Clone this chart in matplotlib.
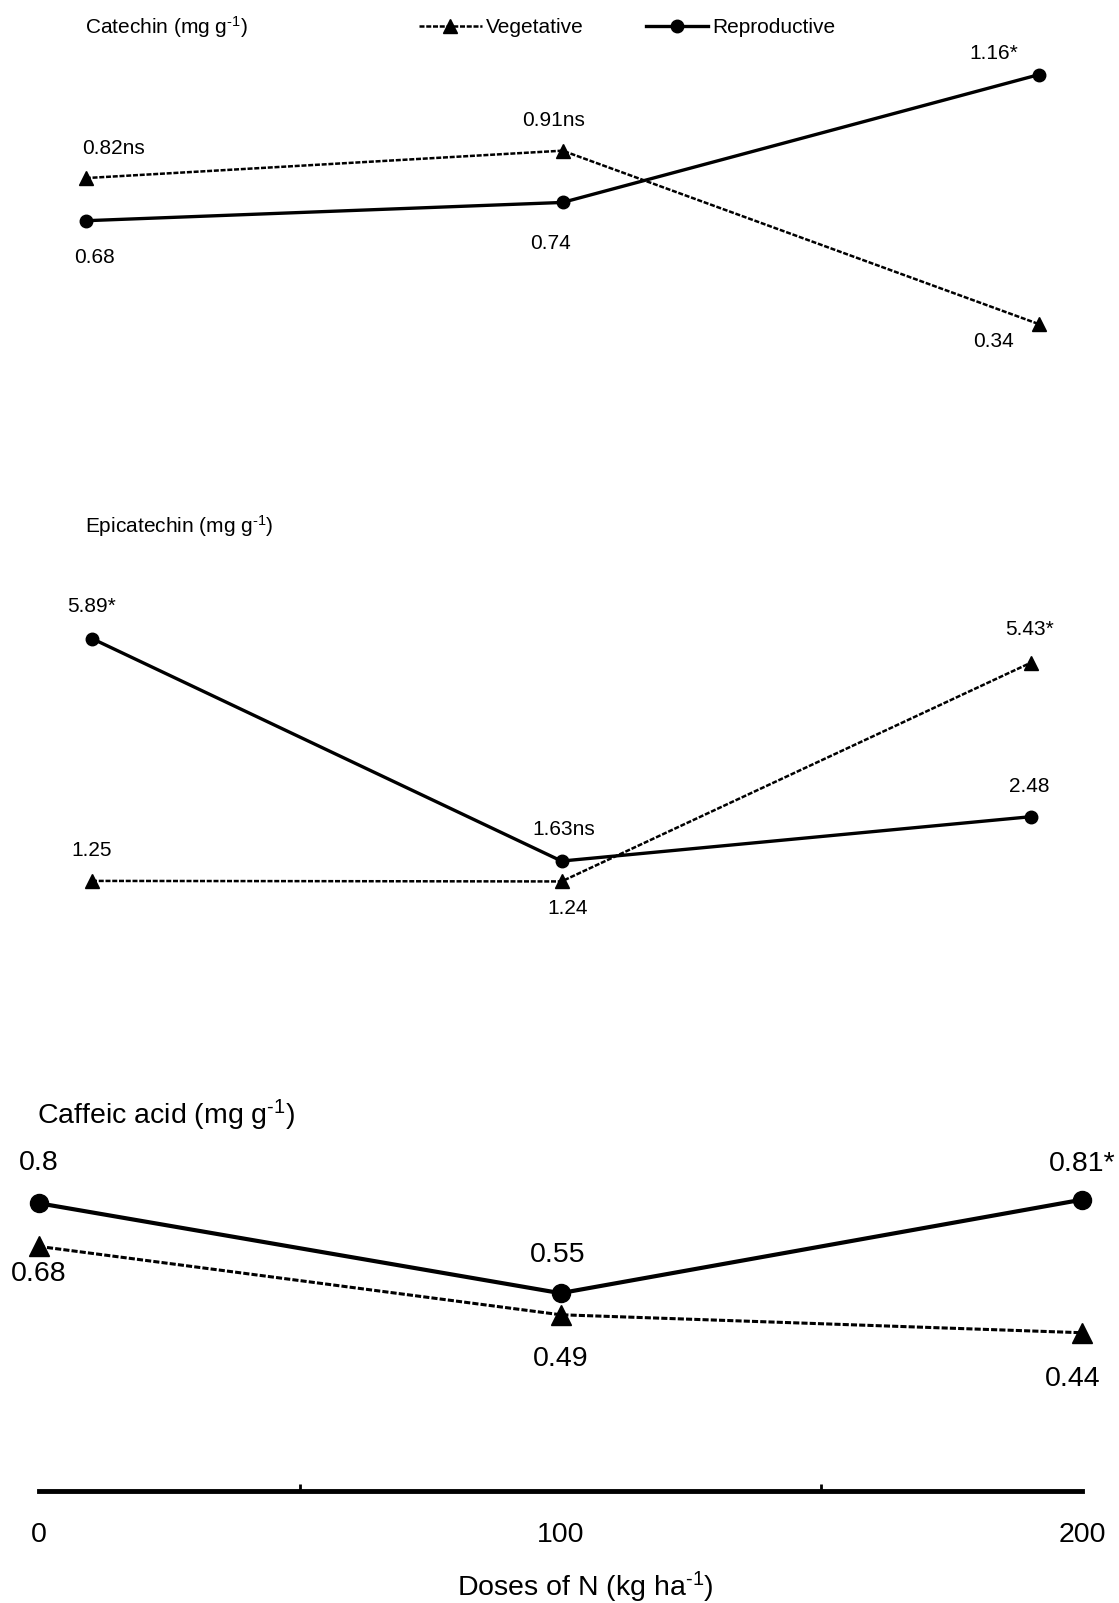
import matplotlib
matplotlib.use("Agg")
import matplotlib.pyplot as plt
from matplotlib import font_manager as fm
from matplotlib.lines import Line2D

names = {f.name for f in fm.fontManager.ttflist}
NARROW = "Liberation Sans Narrow" if "Liberation Sans Narrow" in names else "Liberation Sans"
plt.rcParams['font.family'] = ['Liberation Sans', 'DejaVu Sans']
plt.rcParams['mathtext.fontset'] = 'custom'
plt.rcParams['mathtext.rm'] = 'Liberation Sans'
plt.rcParams['mathtext.it'] = 'Liberation Sans'

doses = [0, 100, 200]
cat_veg = [0.82, 0.91, 0.34]
cat_rep = [0.68, 0.74, 1.16]
cat_veg_lab = ["0.82ns", "0.91ns", "0.34"]
cat_rep_lab = ["0.68", "0.74", "1.16*"]
epi_veg = [1.25, 1.24, 5.43]
epi_rep = [5.89, 1.63, 2.48]
epi_veg_lab = ["1.25", "1.24", "5.43*"]
epi_rep_lab = ["5.89*", "1.63ns", "2.48"]
caf_veg = [0.68, 0.49, 0.44]
caf_rep = [0.80, 0.55, 0.81]
caf_veg_lab = ["0.68", "0.49", "0.44"]
caf_rep_lab = ["0.8", "0.55", "0.81*"]
xticks = [0, 100, 200]

W, H = 1119, 1603
fig = plt.figure(figsize=(W/100, H/100), dpi=100)

def px_axes(x0, x1, ytop, ybot):
    return fig.add_axes([x0/W, 1-ybot/H, (x1-x0)/W, (ybot-ytop)/H])

DASH = (0, (2.0, 0.7))
SUP = r'$^{\text{-}1}$'
S12 = 15.0
S3 = 20.5

def draw(ax, veg, rep, lw_v, lw_r, ms_t, ms_c):
    ax.plot(doses, veg, color='black', linestyle=DASH, lw=lw_v, marker='^', ms=ms_t, clip_on=False)
    ax.plot(doses, rep, color='black', linestyle='-', lw=lw_r, marker='o', ms=ms_c, clip_on=False)
    ax.set_xlim(0, 200)
    for s in ax.spines.values():
        s.set_visible(False)
    ax.set_xticks([]); ax.set_yticks([])
    ax.patch.set_alpha(0)

def lab(ax, xs, ys, labels, offs, size, family, ha_list=None):
    for i, (x, y, t, o) in enumerate(zip(xs, ys, labels, offs)):
        ha = ha_list[i] if ha_list else 'center'
        ax.annotate(t, (x, y), xytext=o, textcoords='offset pixels', ha=ha, va='center',
                    fontsize=size, family=[family, 'DejaVu Sans'])

# Panel 1: Catechin
ax1 = px_axes(85.8, 1039.3, 31.9, 427.8)
ax1.set_ylim(0, 1.3)
draw(ax1, cat_veg, cat_rep, 1.8, 2.4, 10, 9)
lab(ax1, doses, cat_veg, cat_veg_lab, [(-4, 30), (-9, 30), (-46, -17)], S12, NARROW, ['left', 'center', 'center'])
lab(ax1, doses, cat_rep, cat_rep_lab, [(9, -37), (-12, -41), (-46, 21)], S12, NARROW)
fig.text(85/W, 1-27/H, 'Catechin (mg g' + SUP + ')', fontsize=S12, family=[NARROW, 'DejaVu Sans'], ha='left', va='center')

handles = [Line2D([], [], color='black', linestyle=DASH, lw=1.8, marker='^', ms=10),
           Line2D([], [], color='black', linestyle='-', lw=2.4, marker='o', ms=9)]
fig.legend(handles, ['Vegetative', 'Reproductive'], loc='center left',
           bbox_to_anchor=(419/W, 1-27.6/H), ncol=2, frameon=False, borderpad=0, borderaxespad=0,
           handlelength=3.0, handletextpad=0.2, columnspacing=3.0,
           prop={'family': NARROW, 'size': S12})

# Panel 2: Epicatechin
ax2 = px_axes(92.0, 1031.1, 580.6, 946.2)
ax2.set_ylim(0, 7)
draw(ax2, epi_veg, epi_rep, 1.8, 2.4, 10, 9)
lab(ax2, doses, epi_veg, epi_veg_lab, [(0, 30), (6, -27), (-2, 33)], S12, NARROW)
lab(ax2, doses, epi_rep, epi_rep_lab, [(0, 32), (2, 32), (-2, 30)], S12, NARROW)
fig.text(85/W, 1-526/H, 'Epicatechin (mg g' + SUP + ')', fontsize=S12, family=[NARROW, 'DejaVu Sans'], ha='left', va='center')

# Panel 3: Caffeic acid
ax3 = px_axes(38.8, 1082.2, 1131.3, 1491)
ax3.set_ylim(0, 1.0)
draw(ax3, caf_veg, caf_rep, 2.2, 3.0, 15, 13)
ax3.spines['bottom'].set_visible(True)
ax3.spines['bottom'].set_linewidth(3.5)
ax3.set_xticks(xticks)
ax3.set_xticklabels([str(t) for t in xticks], fontsize=S3)
ax3.tick_params(axis='x', length=0, pad=22)
ax3.set_xticks([50, 150, 200], minor=True)
ax3.tick_params(axis='x', which='minor', direction='in', length=5, width=2)
lab(ax3, doses, caf_veg, caf_veg_lab, [(0, -28), (0, -44), (-10, -46)], S3, 'Liberation Sans')
lab(ax3, doses, caf_rep, caf_rep_lab, [(0, 40), (-3, 38), (0, 36)], S3, 'Liberation Sans')
fig.text(37/W, 1-1115/H, 'Caffeic acid (mg g' + SUP + ')', fontsize=S3, ha='left', va='center')
fig.text(585/W, 1-1587/H, 'Doses of N (kg ha' + SUP + ')', fontsize=S3, ha='center', va='center')

fig.savefig('out.png', dpi=100)
